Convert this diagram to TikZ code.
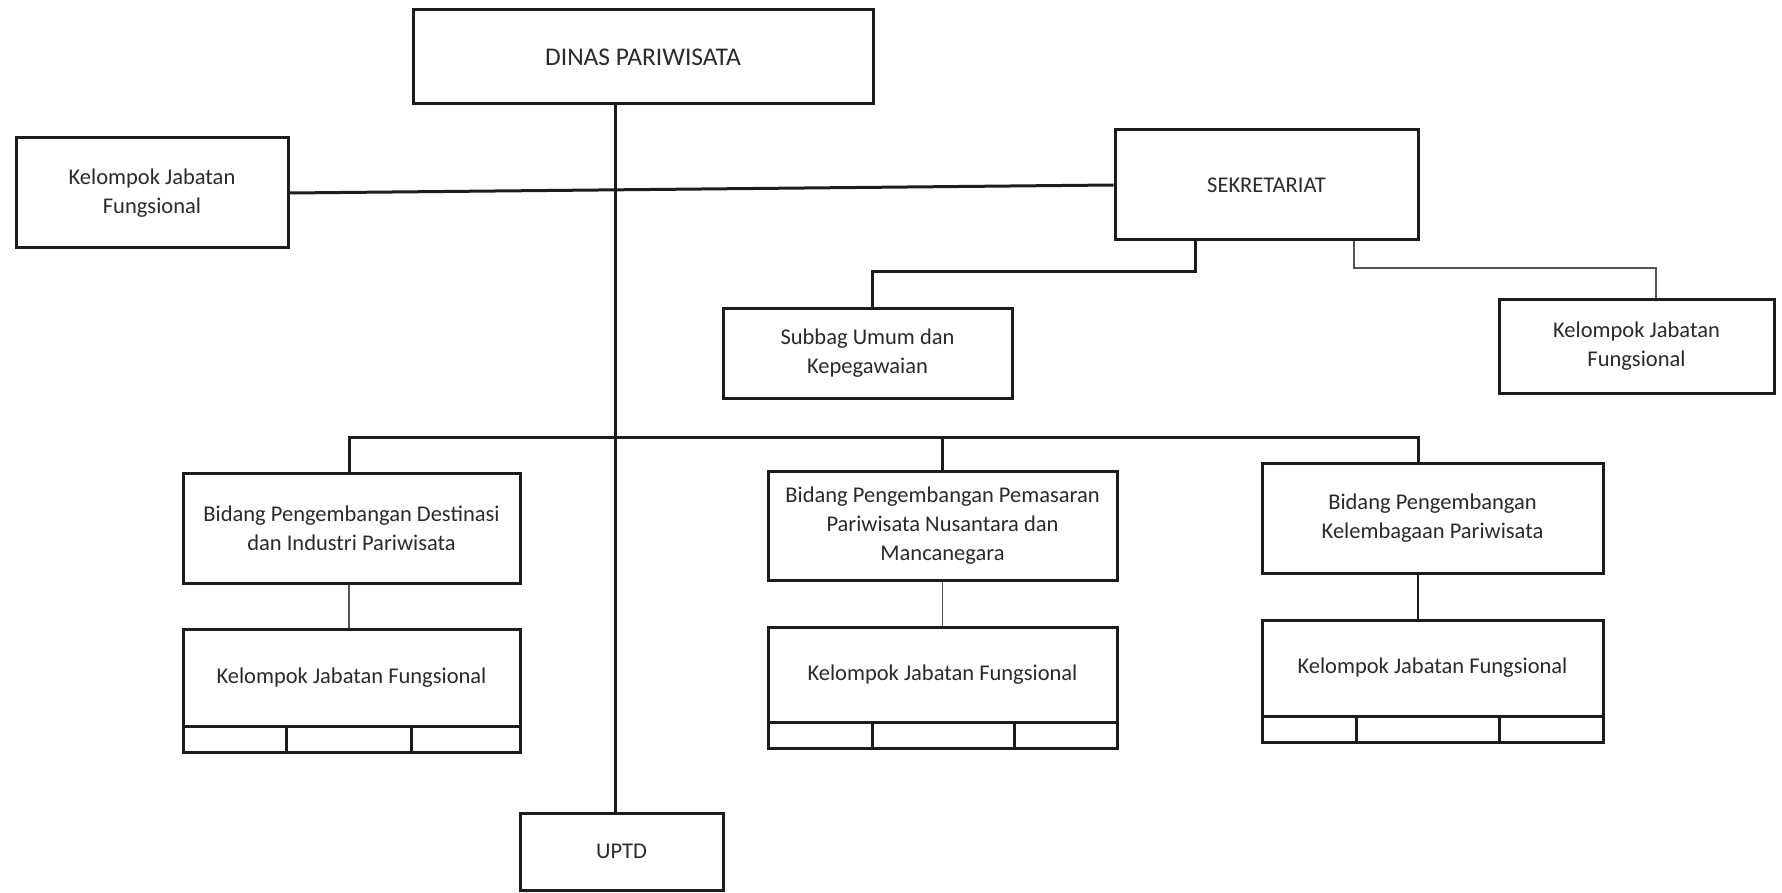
\documentclass[tikz,border=0pt]{standalone}
\usepackage{fontspec}
\setmainfont{Carlito}
\usetikzlibrary{calc}

\definecolor{ink}{HTML}{1C1C1C}
\definecolor{textink}{HTML}{2A2A2A}
\definecolor{faint}{HTML}{555555}

\tikzset{
  unit/.style={draw=ink, line width=3pt, inner sep=0pt, align=center,
    text=textink, font=\fontsize{22.5}{29}\selectfont},
  strip/.style={draw=ink, line width=3pt, inner sep=0pt},
  link/.style={draw=ink, line width=3pt},
  sublink/.style={draw=faint, line width=1.6pt},
  midlink/.style={draw=ink, line width=2.2pt}
}

\begin{document}
\begin{tikzpicture}[x=1pt, y=-1pt]
\useasboundingbox[fill=white] (0,0) rectangle (1782,893);

% top level and staff units
\node[unit, minimum width=460, minimum height=94, font=\fontsize{25.5}{30}\selectfont]
  (dinas) at (643,57) {DINAS PARIWISATA};
\node[unit, minimum width=272, minimum height=110] (kjfL) at (152,193)
  {Kelompok Jabatan\\Fungsional};
\node[unit, minimum width=303, minimum height=110] (sek) at (1266.5,185) {SEKRETARIAT};
\node[unit, minimum width=289, minimum height=90] (subbag) at (867.5,353)
  {Subbag Umum dan\\Kepegawaian};
\node[unit, minimum width=275, minimum height=94] (kjfR) at (1636.5,346)
  {Kelompok Jabatan\\Fungsional};

% divisions
\node[unit, minimum width=337, minimum height=110] (bid1) at (351.5,528)
  {Bidang Pengembangan Destinasi\\dan Industri Pariwisata};
\node[unit, minimum width=349, minimum height=109] (bid2) at (942.5,525.5)
  {Bidang Pengembangan Pemasaran\\Pariwisata Nusantara dan\\Mancanegara};
\node[unit, minimum width=341, minimum height=110] (bid3) at (1432.5,518)
  {Bidang Pengembangan\\Kelembagaan Pariwisata};

% functional groups under each division, with their lower strips
\node[unit, minimum width=337, minimum height=97] (kjf1) at (351.5,677.5)
  {Kelompok Jabatan Fungsional};
\node[strip, minimum width=337, minimum height=26] (kjf1s) at (351.5,739) {};
\node[unit, minimum width=349, minimum height=95] (kjf2) at (942.5,674.5)
  {Kelompok Jabatan Fungsional};
\node[strip, minimum width=349, minimum height=26] (kjf2s) at (942.5,735) {};
\node[unit, minimum width=341, minimum height=96] (kjf3) at (1432.5,668)
  {Kelompok Jabatan Fungsional};
\node[strip, minimum width=341, minimum height=26] (kjf3s) at (1432.5,729) {};

\node[unit, minimum width=203, minimum height=77] (uptd) at (621.5,851.5) {UPTD};

% strip dividers
\foreach \s/\xa/\xb in {kjf1s/286/411, kjf2s/872/1014, kjf3s/1356/1499}{
  \draw[link] (\s.north -| \xa,0) -- (\s.south -| \xa,0);
  \draw[link] (\s.north -| \xb,0) -- (\s.south -| \xb,0);
}

% connector anchors
\coordinate (spine) at (615,0);
\coordinate (s1) at (1195,272);
\coordinate (s2) at (1354,268);
\coordinate (kr) at (1656,0);
\coordinate (busL) at (349,437);
\coordinate (busR) at (1418,437);

% main line of command
\draw[link] (dinas.south -| spine) -- (uptd.north -| spine);
\draw[link] (kjfL.east) -- (sek.west);
\draw[link] (sek.south -| s1) -- (s1) -| (872,0 |- subbag.north);
\draw[sublink] (sek.south -| s2) -- (s2) -| (kjfR.north -| kr);

% division bus
\draw[link] (bid1.north -| busL) -- (busL) -- (busR) -- (bid3.north -| busR);
\draw[link] (busL -| bid2.north) -- (bid2.north);

% division to functional group
\draw[sublink] (bid1.south -| busL) -- (kjf1.north -| busL);
\draw[sublink] (bid2.south) -- (kjf2.north);
\draw[midlink] (bid3.south -| busR) -- (kjf3.north -| busR);
\end{tikzpicture}
\end{document}
